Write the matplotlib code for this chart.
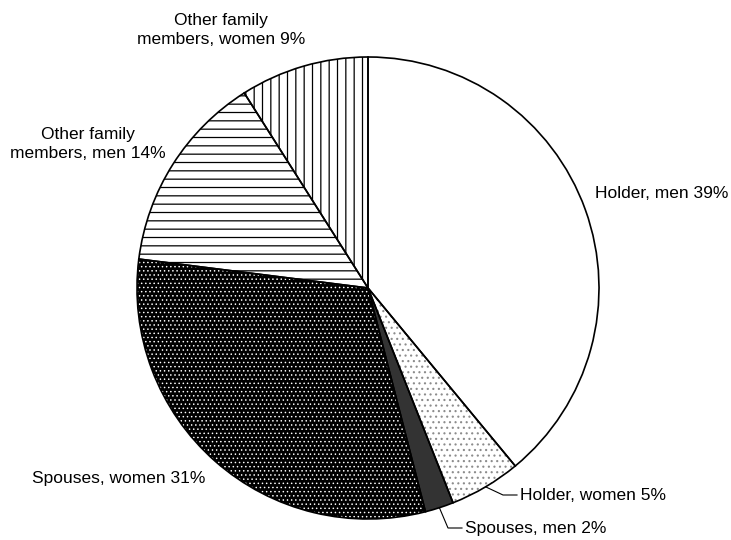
import numpy as np
import matplotlib.pyplot as plt
from matplotlib.patches import Wedge

# Shares of family labour, clockwise from 12 o'clock
categories = ["Holder, men", "Holder, women", "Spouses, men",
              "Spouses, women", "Other family\nmembers, men",
              "Other family\nmembers, women"]
shares = [39, 5, 2, 31, 14, 9]

# look of each slice: face colour, hatch, hatch colour, hatch width
faces = ["white", "white", "#333333", "black", "white", "white"]
hatches = [None, "...", None, "....", "--", "||"]
hatch_cols = ["black", "#8c8c8c", "black", "white", "black", "black"]
hatch_lw = [0.9, 0.8, 0.9, 0.55, 0.9, 0.9]

# label anchor in pixels (x, y from top), alignment, leader line or not
label_pos = [(595, 193), (520, 495), (465, 528), (32, 478), (88, 144), (221, 30)]
label_ha = ["left", "left", "left", "left", "center", "center"]
leader = [False, True, True, False, False, False]

W, H = 731, 540
CX, CY, R = 368, 288, 231

plt.rcParams['font.family'] = ['Liberation Sans', 'DejaVu Sans']
plt.rcParams['hatch.linewidth'] = 0.9

fig = plt.figure(figsize=(W / 100, H / 100), dpi=100)
ax = fig.add_axes([0, 0, 1, 1])

wedges, _ = ax.pie(shares, startangle=90, counterclock=False,
                   center=(CX, H - CY), radius=R, colors=faces,
                   wedgeprops=dict(linewidth=0))

for w, h, hc, hl in zip(wedges, hatches, hatch_cols, hatch_lw):
    # hatch colour follows the edge colour; the outline is drawn separately
    w.set_edgecolor(hc)
    w.set_linewidth(0)
    if h:
        w.set_hatch(h)
        if hasattr(w, "set_hatch_linewidth"):
            w.set_hatch_linewidth(hl)
    ax.add_patch(Wedge(w.center, w.r, w.theta1, w.theta2, fill=False,
                       edgecolor="black", linewidth=1.2))

for i, w in enumerate(wedges):
    pct = shares[i]
    name = categories[i]
    x, y = label_pos[i]
    ax.text(x, H - y, f"{name} {pct}%", ha=label_ha[i], va="center",
            fontsize=12.5, color="black", linespacing=1.35)
    if leader[i]:
        mid = np.deg2rad((w.theta1 + w.theta2) / 2)
        px = CX + R * np.cos(mid)
        py = H - CY + R * np.sin(mid)
        ax.plot([px, x - 17, x - 3], [py, H - y, H - y],
                color="black", linewidth=0.8)

ax.set_xlim(0, W)
ax.set_ylim(0, H)
ax.set_aspect("auto")
ax.axis("off")

fig.savefig("out.png", dpi=100, facecolor="white")
